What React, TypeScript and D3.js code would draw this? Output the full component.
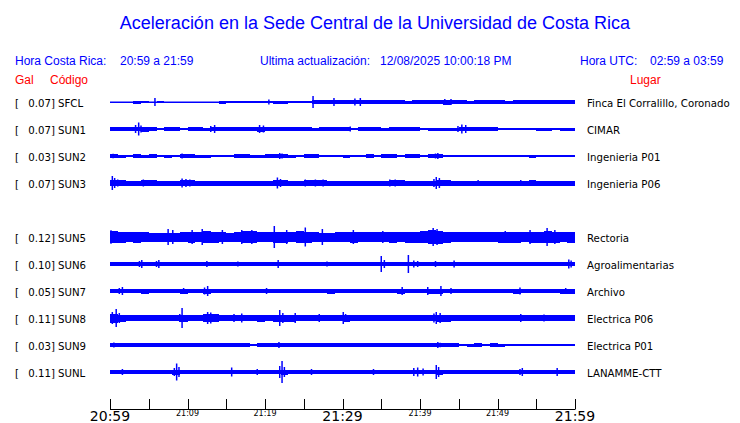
import React from 'react';
import * as d3 from 'd3';

const title = 'Aceleración en la Sede Central de la Universidad de Costa Rica';
const horaCR = '20:59 a 21:59';
const actualizacion = '12/08/2025 10:00:18 PM';
const horaUTC = '02:59 a 03:59';

const codes = ['SFCL', 'SUN1', 'SUN2', 'SUN3', 'SUN5', 'SUN6', 'SUN7', 'SUN8', 'SUN9', 'SUNL'];
const gals = ['0.07', '0.07', '0.03', '0.07', '0.12', '0.10', '0.05', '0.11', '0.03', '0.11'];
const places = ['Finca El Corralillo, Coronado', 'CIMAR', 'Ingenieria P01', 'Ingenieria P06', 'Rectoria',
  'Agroalimentarias', 'Archivo', 'Electrica P06', 'Electrica P01', 'LANAMME-CTT'];
// row slot for each station (slot 4 is empty)
const slots = [0, 1, 2, 3, 5, 6, 7, 8, 9, 10];

const tickMinutes = [0, 5, 10, 15, 20, 25, 30, 35, 40, 45, 50, 55, 60];
const bigLabels = [[0, '20:59'], [30, '21:29'], [60, '21:59']];
const smallLabels = [[10, '21:09'], [20, '21:19'], [40, '21:39'], [50, '21:49']];

// envelope (half amplitude) per minute, one array per station
const bodySFCL = [0.5, 0.5, 0.5, 1.5, 0.8, 0.5, 0.8, 0.5, 0.5, 0.5,
  0.5, 0.5, 0.5, 0.5, 1.5, 1.0, 1.2, 1.0, 0.6, 0.8,
  1.2, 1.5, 1.5, 1.3, 1.0, 1.2, 2.0, 2.0, 2.0, 1.8,
  2.2, 2.0, 2.2, 2.2, 2.2, 2.0, 2.2, 2.0, 1.5, 2.2,
  2.2, 2.0, 2.2, 2.5, 2.0, 1.8, 1.5, 1.8, 2.0, 1.8,
  2.0, 1.5, 1.8, 2.0, 1.8, 1.8, 2.0, 2.2, 2.2, 2.2];
const bodySUN1 = [1.8, 1.8, 1.6, 2.2, 2.5, 1.6, 1.0, 1.8, 1.8, 1.2,
  1.8, 1.8, 1.5, 2.2, 2.0, 1.8, 1.8, 1.8, 1.8, 2.5,
  1.8, 1.8, 1.8, 1.8, 1.8, 1.8, 1.5, 1.8, 1.8, 1.8,
  1.8, 1.2, 1.8, 1.8, 1.8, 1.5, 1.8, 1.8, 1.8, 1.8,
  1.2, 1.5, 1.5, 1.5, 1.5, 2.2, 1.8, 1.8, 1.8, 1.8,
  1.2, 1.0, 1.2, 1.0, 1.2, 1.5, 1.5, 1.2, 1.5, 1.5];
const bodySUN2 = [2.0, 1.5, 1.2, 1.6, 1.5, 1.6, 1.2, 1.5, 1.3, 1.6,
  1.8, 1.5, 1.5, 1.2, 1.2, 1.1, 1.6, 1.6, 1.5, 1.5,
  1.6, 1.9, 1.6, 1.5, 1.3, 1.6, 1.6, 1.2, 1.3, 1.2,
  1.5, 1.3, 1.2, 1.6, 1.3, 1.6, 1.6, 1.3, 1.6, 1.6,
  1.3, 1.6, 1.9, 1.3, 1.2, 1.0, 0.9, 1.2, 0.9, 0.9,
  1.1, 0.9, 1.2, 0.9, 1.5, 1.1, 0.9, 0.9, 1.1, 0.9];
const bodySUN3 = [3.0, 2.8, 2.5, 2.5, 2.8, 3.0, 2.5, 2.5, 2.5, 2.8,
  2.8, 2.5, 2.5, 2.5, 2.5, 2.5, 2.5, 2.5, 2.5, 2.5,
  2.5, 2.8, 3.0, 2.5, 2.5, 2.8, 3.0, 2.8, 2.5, 2.5,
  2.5, 2.5, 2.5, 2.5, 2.5, 2.5, 2.8, 3.0, 2.5, 2.5,
  2.5, 2.5, 3.0, 2.8, 2.5, 2.5, 2.5, 2.5, 2.5, 2.5,
  2.5, 2.5, 2.5, 2.5, 2.8, 2.5, 2.5, 2.5, 2.5, 2.5];
const bodySUN5 = [6.0, 5.5, 5.0, 5.5, 5.0, 4.5, 4.5, 4.5, 4.5, 5.0,
  5.5, 5.0, 6.0, 5.5, 5.0, 4.5, 5.0, 6.0, 6.0, 5.0,
  5.0, 5.5, 5.5, 5.0, 6.0, 5.5, 5.0, 4.5, 4.5, 5.0,
  5.0, 5.5, 5.0, 5.0, 5.0, 5.0, 5.5, 5.0, 5.5, 5.5,
  6.0, 7.0, 6.5, 5.5, 5.0, 5.0, 5.0, 5.0, 5.0, 5.0,
  5.5, 5.5, 5.5, 5.0, 5.5, 5.5, 6.0, 5.5, 5.0, 5.5];
const bodySUN6 = [2.0, 2.0, 2.0, 1.8, 2.2, 1.8, 2.2, 1.8, 1.8, 1.8,
  1.8, 1.8, 2.0, 2.0, 1.8, 1.8, 1.8, 1.8, 1.8, 1.8,
  1.8, 2.0, 2.0, 1.8, 1.8, 1.8, 1.8, 1.8, 1.8, 1.8,
  1.8, 2.0, 1.8, 1.8, 2.0, 2.0, 1.8, 2.0, 2.2, 2.2,
  2.0, 1.8, 1.8, 1.8, 2.0, 1.8, 1.8, 1.8, 1.8, 1.8,
  1.8, 1.8, 1.8, 1.8, 1.8, 2.0, 1.8, 1.8, 2.0, 2.2];
const bodySUN7 = [2.2, 2.2, 2.2, 2.0, 2.5, 2.2, 2.2, 2.2, 2.2, 2.5,
  2.2, 2.2, 2.5, 2.2, 2.2, 2.0, 2.0, 2.2, 2.2, 2.2,
  2.0, 2.2, 2.0, 2.2, 2.2, 2.2, 2.2, 2.2, 2.5, 2.2,
  2.2, 2.2, 2.2, 2.0, 2.2, 2.2, 2.2, 2.5, 2.2, 2.2,
  2.2, 2.5, 2.5, 2.2, 2.2, 2.2, 2.2, 2.2, 2.2, 2.2,
  2.2, 2.2, 2.5, 2.2, 2.2, 2.2, 2.2, 2.2, 2.5, 2.5];
const bodySUN8 = [4.5, 3.5, 3.0, 2.8, 2.8, 2.8, 2.8, 2.8, 3.0, 3.5,
  3.0, 2.8, 4.0, 4.0, 3.0, 2.8, 3.0, 3.0, 3.0, 3.5,
  3.0, 3.5, 3.5, 3.5, 3.0, 3.0, 3.0, 2.8, 2.8, 2.8,
  3.5, 3.0, 2.8, 2.8, 2.8, 2.8, 3.0, 2.8, 2.8, 3.0,
  3.0, 3.0, 3.5, 3.5, 3.0, 2.8, 2.8, 2.8, 2.8, 2.8,
  2.8, 2.8, 2.8, 3.0, 2.8, 2.8, 2.8, 2.8, 3.0, 3.0];
const bodySUN9 = [1.8, 2.2, 1.6, 1.6, 1.6, 1.6, 1.6, 1.6, 1.6, 1.6,
  1.6, 1.6, 1.6, 1.6, 1.6, 1.6, 1.6, 1.6, 1.1, 1.6,
  1.6, 1.6, 1.8, 1.6, 1.6, 1.6, 1.6, 1.6, 1.6, 1.6,
  1.6, 1.6, 1.6, 1.6, 1.6, 1.6, 1.6, 1.6, 1.6, 1.6,
  1.6, 1.6, 1.8, 1.6, 1.6, 1.3, 1.5, 1.6, 1.3, 1.6,
  1.5, 1.3, 1.0, 1.2, 1.0, 1.3, 1.1, 1.2, 1.0, 1.0];
const bodySUNL = [1.8, 1.8, 2.0, 1.8, 2.0, 1.8, 1.8, 1.8, 2.5, 2.2,
  1.8, 1.8, 1.8, 1.8, 1.8, 1.8, 2.0, 1.8, 1.8, 1.8,
  1.8, 2.0, 2.5, 1.8, 1.8, 1.8, 1.8, 1.8, 1.8, 1.8,
  1.8, 1.8, 1.8, 1.8, 1.8, 1.8, 1.8, 1.8, 1.8, 1.8,
  2.0, 2.0, 2.5, 2.0, 1.8, 1.8, 1.8, 1.8, 1.8, 1.8,
  1.8, 1.8, 2.0, 2.0, 1.8, 1.8, 1.8, 1.8, 1.8, 1.8];

// peaks: [minute, half amplitude]
const peaksSFCL = [[5.8, 4], [20.5, 2.5], [26.2, 6], [28.9, 4], [31.6, 3.5], [32.3, 4], [43.2, 3], [44, 3]];
const peaksSUN1 = [[3.3, 4], [3.7, 6.5], [4.0, 3.5], [13.0, 3], [13.5, 4], [19.3, 4], [19.8, 3.5], [31.0, 2.5],
  [44.9, 3], [45.4, 4.5], [45.9, 4]];
const peaksSUN2 = [[0.4, 2.2], [9.3, 2.5], [21.9, 3], [22.2, 2.5], [42.0, 2.5], [42.3, 3]];
const peaksSUN3 = [[0.3, 7], [0.6, 5], [1.0, 3.5], [4.3, 3.5], [9.3, 4.5], [9.8, 4], [10.3, 3.5], [21.6, 5.5],
  [22.0, 4], [25.2, 3.5], [26.5, 3.5], [27.5, 3.5], [36.1, 3.5], [36.8, 3.5], [41.8, 4], [42.1, 6], [42.5, 5],
  [47.5, 3], [53, 3]];
const peaksSUN5 = [[0.13, 6.7], [2.3, 5], [7.5, 8], [8.1, 7], [10.6, 7], [11.9, 8], [14.5, 7], [17.0, 7],
  [18.3, 7], [21.2, 11], [22.8, 7], [25.2, 9.5], [27.4, 8], [31.4, 7], [35.2, 6], [41.7, 9], [42.2, 8],
  [45.5, 5], [51.0, 6], [54.2, 7], [56.4, 9], [57.4, 7]];
const peaksSUN6 = [[3.8, 3], [4.1, 4], [6.0, 3], [6.3, 4], [12.5, 3], [16.5, 2.5], [21.7, 4], [28, 2.5],
  [35.0, 8], [35.4, 4], [38.5, 9], [39.2, 3.5], [39.7, 3], [42, 3], [44.4, 3.5], [59.2, 4.5], [59.5, 3.5]];
const peaksSUN7 = [[1.2, 3], [1.6, 4], [9.5, 3], [12.2, 3.5], [12.6, 5], [20.2, 3], [37.7, 4], [41.0, 4],
  [42.7, 5], [44.0, 3], [52.9, 3.5], [58.8, 3]];
const peaksSUN8 = [[0.3, 6], [0.8, 9], [1.2, 5], [9.0, 4], [9.3, 10], [12.6, 6], [13.0, 5.5], [13.5, 4],
  [16, 4], [17.0, 4.5], [21.9, 8], [22.3, 5], [23.9, 5], [27, 4], [30.1, 6], [30.4, 4], [41.8, 4.5],
  [42.1, 6], [42.6, 5], [53, 4], [56, 3.5]];
const peaksSUN9 = [[0.5, 2.5], [12.5, 2], [21.8, 3], [42.3, 3], [42.6, 2.2]];
const peaksSUNL = [[1.6, 3], [8.3, 4], [8.6, 8.5], [8.9, 5], [15.7, 4.5], [19.0, 3], [21.9, 6], [22.2, 11],
  [22.5, 5], [26, 3], [34, 3], [39.2, 4], [39.7, 4.5], [40.4, 3.5], [42.1, 7], [42.4, 5], [52.9, 3],
  [53.2, 4], [57.7, 4]];

const bodies = [bodySFCL, bodySUN1, bodySUN2, bodySUN3, bodySUN5, bodySUN6, bodySUN7, bodySUN8, bodySUN9, bodySUNL];
const peaks = [peaksSFCL, peaksSUN1, peaksSUN2, peaksSUN3, peaksSUN5, peaksSUN6, peaksSUN7, peaksSUN8, peaksSUN9, peaksSUNL];

const BLUE = '#0000ff';
const RED = '#ff0000';
const sans = '"Liberation Sans", Arial, sans-serif';
const dejavu = '"DejaVu Sans", sans-serif';

const App = () => {
  const width = 740;
  const height = 423;

  const x = d3.scaleLinear().domain([0, 60]).range([110, 575]);
  const y = d3.scaleLinear().domain([0, 10]).range([102, 372]);
  const amp = d3.scaleLinear().domain([0, 12]).range([0, 12]);

  return (
    <svg width={width} height={height} style={{ position: 'absolute', left: 0, top: 0 }}>
      <rect width={width} height={height} fill="#fff" />
      <text x={375} y={29} textAnchor="middle" fontFamily={sans} fontSize={18} fill={BLUE}>{title}</text>

      <g fontFamily={sans} fontSize={12} fill={BLUE}>
        <text x={15} y={65}>Hora Costa Rica:</text>
        <text x={120} y={65}>{horaCR}</text>
        <text x={260} y={65}>Ultima actualización:</text>
        <text x={380} y={65}>{actualizacion}</text>
        <text x={580} y={65}>Hora UTC:</text>
        <text x={650} y={65}>{horaUTC}</text>
      </g>
      <g fontFamily={sans} fontSize={12} fill={RED}>
        <text x={15} y={84}>Gal</text>
        <text x={50} y={84}>Código</text>
        <text x={630} y={84}>Lugar</text>
      </g>

      {codes.map((code, i) => {
        const cy = y(slots[i]);
        const body = bodies[i];
        const pts = body.map((v, m) => [m, v]).concat([[60, body[body.length - 1]]]);
        const area = d3.area<number[]>()
          .x(d => x(d[0]))
          .y0(d => cy + amp(d[1]))
          .y1(d => cy - amp(d[1]))
          .curve(d3.curveStepAfter);
        return (
          <g key={code}>
            <g fontFamily={dejavu} fontSize={10.2} fill="#000">
              <text x={15} y={cy + 4.5}>[</text>
              <text x={55} y={cy + 4.5} textAnchor="end">{gals[i]}]</text>
              <text x={58} y={cy + 4.5}>{code}</text>
              <text x={587} y={cy + 4.5}>{places[i]}</text>
            </g>
            <line x1={x(0)} x2={x(60)} y1={cy} y2={cy} stroke={BLUE} strokeWidth={1} />
            <path d={area(pts) || ''} fill={BLUE} shapeRendering="crispEdges" />
            {peaks[i].map((p, k) => (
              <line key={k} x1={x(p[0])} x2={x(p[0])} y1={cy - amp(p[1])} y2={cy + amp(p[1])}
                stroke={BLUE} strokeWidth={1.5} />
            ))}
          </g>
        );
      })}

      <g>
        <line x1={x(0)} x2={x(60)} y1={409.5} y2={409.5} stroke="#000" strokeWidth={1} />
        {tickMinutes.map(t => (
          <line key={t} x1={Math.round(x(t)) + 0.5} x2={Math.round(x(t)) + 0.5} y1={399} y2={409.5}
            stroke="#000" strokeWidth={1} />
        ))}
        {bigLabels.map(([t, l]) => (
          <text key={l} x={x(t as number)} y={421} textAnchor="middle" fontFamily={dejavu} fontSize={14}
            fill="#000">{l}</text>
        ))}
        {smallLabels.map(([t, l]) => (
          <text key={l} x={x(t as number)} y={416} textAnchor="middle" fontFamily={dejavu} fontSize={8}
            fill="#000">{l}</text>
        ))}
      </g>
    </svg>
  );
};

export default App;
